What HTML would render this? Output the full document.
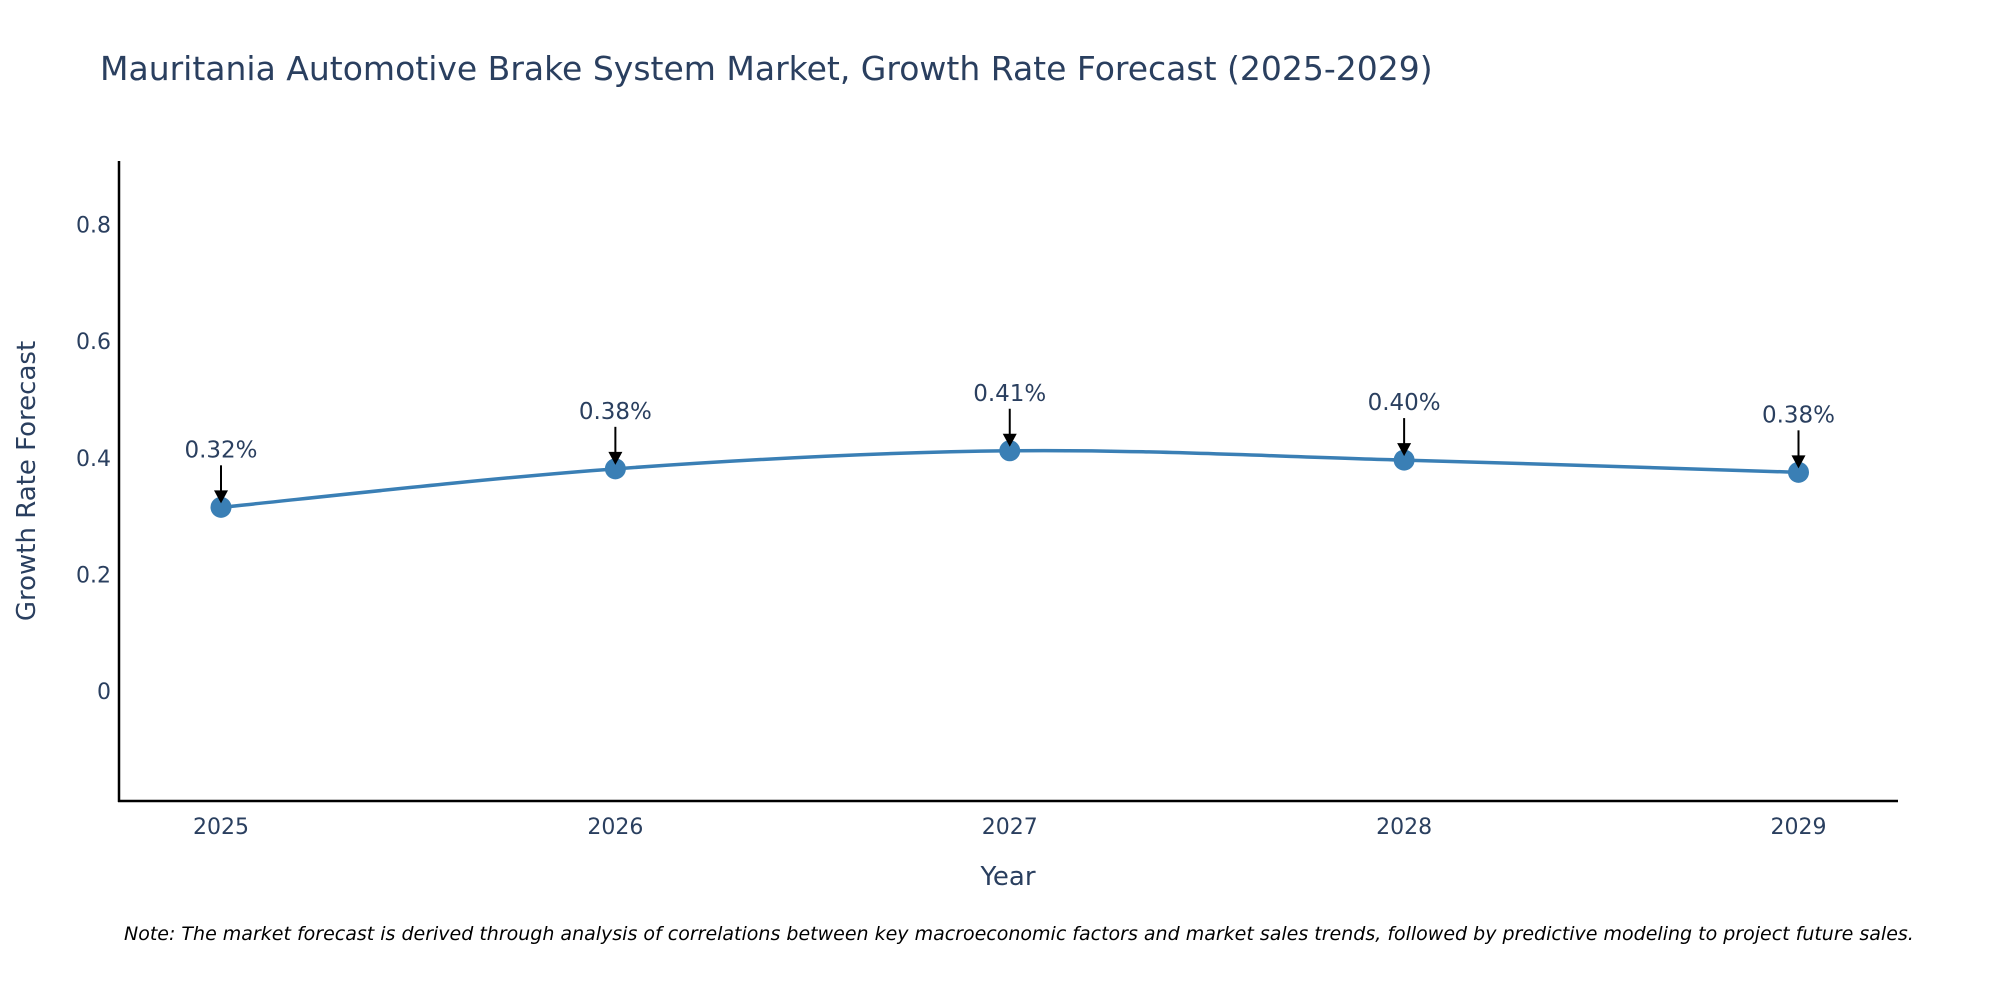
<!DOCTYPE html>
<html><head><meta charset="utf-8"><style>
body{margin:0;background:#fff;}
svg text{font-family:"DejaVu Sans","Liberation Sans",sans-serif;}
</style></head><body>
<svg id="chart" width="2000" height="1000" xmlns="http://www.w3.org/2000/svg">
<text x="100" y="80" font-size="33" fill="#2a3f5f">Mauritania Automotive Brake System Market, Growth Rate Forecast (2025-2029)</text>
<g id="yticks"></g>
<g id="xticks"></g>
<line x1="119" y1="161" x2="119" y2="802" stroke="#000" stroke-width="2.5"/>
<line x1="118" y1="801" x2="1898" y2="801" stroke="#000" stroke-width="2.5"/>
<path id="line" fill="none" stroke="#3a7fb5" stroke-width="3.5"/>
<g id="points"></g>
<g id="annots"></g>
<text x="1008" y="885" font-size="26" fill="#2a3f5f" text-anchor="middle">Year</text>
<text transform="translate(35,481) rotate(-90)" font-size="26" fill="#2a3f5f" text-anchor="middle">Growth Rate Forecast</text>
<text x="124" y="940" font-size="19" font-style="italic" fill="#000">Note: The market forecast is derived through analysis of correlations between key macroeconomic factors and market sales trends, followed by predictive modeling to project future sales.</text>
</svg>
<script>
const years=[2025,2026,2027,2028,2029];
const values=[0.315,0.381,0.412,0.396,0.375];
const labels=["0.32%","0.38%","0.41%","0.40%","0.38%"];
const yTicks=[0,0.2,0.4,0.6,0.8];
const yTickLabels=["0","0.2","0.4","0.6","0.8"];
const NS="http://www.w3.org/2000/svg";
function xs(i){return 221+(1798.5-221)*i/(years.length-1);}
function ys(v){return 691-v*(466.5/0.8);}
function mk(tag,attrs,parent){const e=document.createElementNS(NS,tag);for(const k in attrs)e.setAttribute(k,attrs[k]);parent.appendChild(e);return e;}
const yt=document.getElementById('yticks');
yTicks.forEach((t,i)=>{const e=mk('text',{x:111,y:ys(t)+8,'font-size':22,fill:'#2a3f5f','text-anchor':'end'},yt);e.textContent=yTickLabels[i];

});
const xt=document.getElementById('xticks');
years.forEach((y,i)=>{const e=mk('text',{x:xs(i),y:834,'font-size':22,fill:'#2a3f5f','text-anchor':'middle'},xt);e.textContent=y;

});
const P=values.map((v,i)=>[xs(i),ys(v)]);
let d="M"+P[0][0]+","+P[0][1];
const s=0.33;
for(let i=0;i<P.length-1;i++){const p0=P[Math.max(0,i-1)],p1=P[i],p2=P[i+1],p3=P[Math.min(P.length-1,i+2)];
const c1=[p1[0]+(p2[0]-p0[0])*s/2,p1[1]+(p2[1]-p0[1])*s/2];
const c2=[p2[0]-(p3[0]-p1[0])*s/2,p2[1]-(p3[1]-p1[1])*s/2];
d+=" C"+c1[0]+","+c1[1]+" "+c2[0]+","+c2[1]+" "+p2[0]+","+p2[1];}
document.getElementById('line').setAttribute('d',d);
const pts=document.getElementById('points'),an=document.getElementById('annots');
P.forEach((p,i)=>{const c=mk('circle',{cx:p[0],cy:p[1],r:10.5,fill:'#3a7fb5'},pts);


const l=mk('line',{x1:p[0],y1:p[1]-42,x2:p[0],y2:p[1]-14,stroke:'#000','stroke-width':2},an);


const h=mk('polygon',{points:(p[0]-7)+","+(p[1]-17)+" "+(p[0]+7)+","+(p[1]-17)+" "+p[0]+","+(p[1]-4),fill:'#000'},an);


const t=mk('text',{x:p[0],y:p[1]-50,'font-size':23,fill:'#2a3f5f','text-anchor':'middle'},an);t.textContent=labels[i];

});
</script>
</body></html>
